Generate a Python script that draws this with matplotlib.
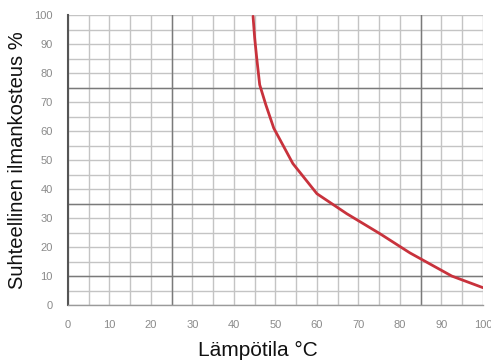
import matplotlib
matplotlib.use('Agg')
import matplotlib.pyplot as plt
import numpy as np

# curve
temp = [44.6, 45.0, 45.5, 46.2, 47.7, 49.6, 51.6, 54.2, 60.0, 67.2, 75.2, 82.4, 92.5, 100.0]
rh = [99.6, 92.0, 85.0, 76.0, 69.0, 61.0, 55.7, 48.8, 38.4, 31.5, 24.6, 18.0, 10.0, 6.0]

xticks = list(range(0, 101, 10))
yticks = list(range(0, 101, 10))
minor = list(range(0, 101, 5))
# darker lines of the chart paper
dark_x = [25, 85]
dark_y = [10, 35, 75]

plt.rcParams['font.family'] = ['Liberation Sans', 'DejaVu Sans']

fig = plt.figure(figsize=(4.91, 3.61), dpi=100)
ax = fig.add_axes([0.1385, 0.155, 0.845, 0.803])

for v in minor:
    ax.axvline(v, color='#c4c4c4', lw=1.0, zorder=1)
    ax.axhline(v, color='#c4c4c4', lw=1.0, zorder=1)
for v in dark_x:
    ax.axvline(v, color='#7a7a7a', lw=1.0, zorder=1)
for v in dark_y:
    ax.axhline(v, color='#7a7a7a', lw=1.0, zorder=1)

ax.plot(temp, rh, color='#c8323c', lw=2.0, zorder=3,
        solid_capstyle='round', solid_joinstyle='round')

ax.set_xlim(0, 100)
ax.set_ylim(0, 100)
ax.set_xticks(xticks)
ax.set_yticks(yticks)
ax.tick_params(length=0, labelsize=8, labelcolor='#8a8a8a')
ax.tick_params(axis='x', pad=11)
ax.tick_params(axis='y', pad=11)

for s in ['top', 'right']:
    ax.spines[s].set_visible(False)
ax.spines['left'].set_color('#555555')
ax.spines['left'].set_linewidth(1.5)
ax.spines['bottom'].set_color('#9a9a9a')
ax.spines['bottom'].set_linewidth(1.0)

ax.set_xlabel('Lämpötila °C', fontsize=15, labelpad=0, color='#111111')
ax.xaxis.set_label_coords(0.458, -0.125)
ax.set_ylabel('Suhteellinen ilmankosteus %', fontsize=14.5, labelpad=5, color='#111111')

fig.savefig('out.png', dpi=100)
